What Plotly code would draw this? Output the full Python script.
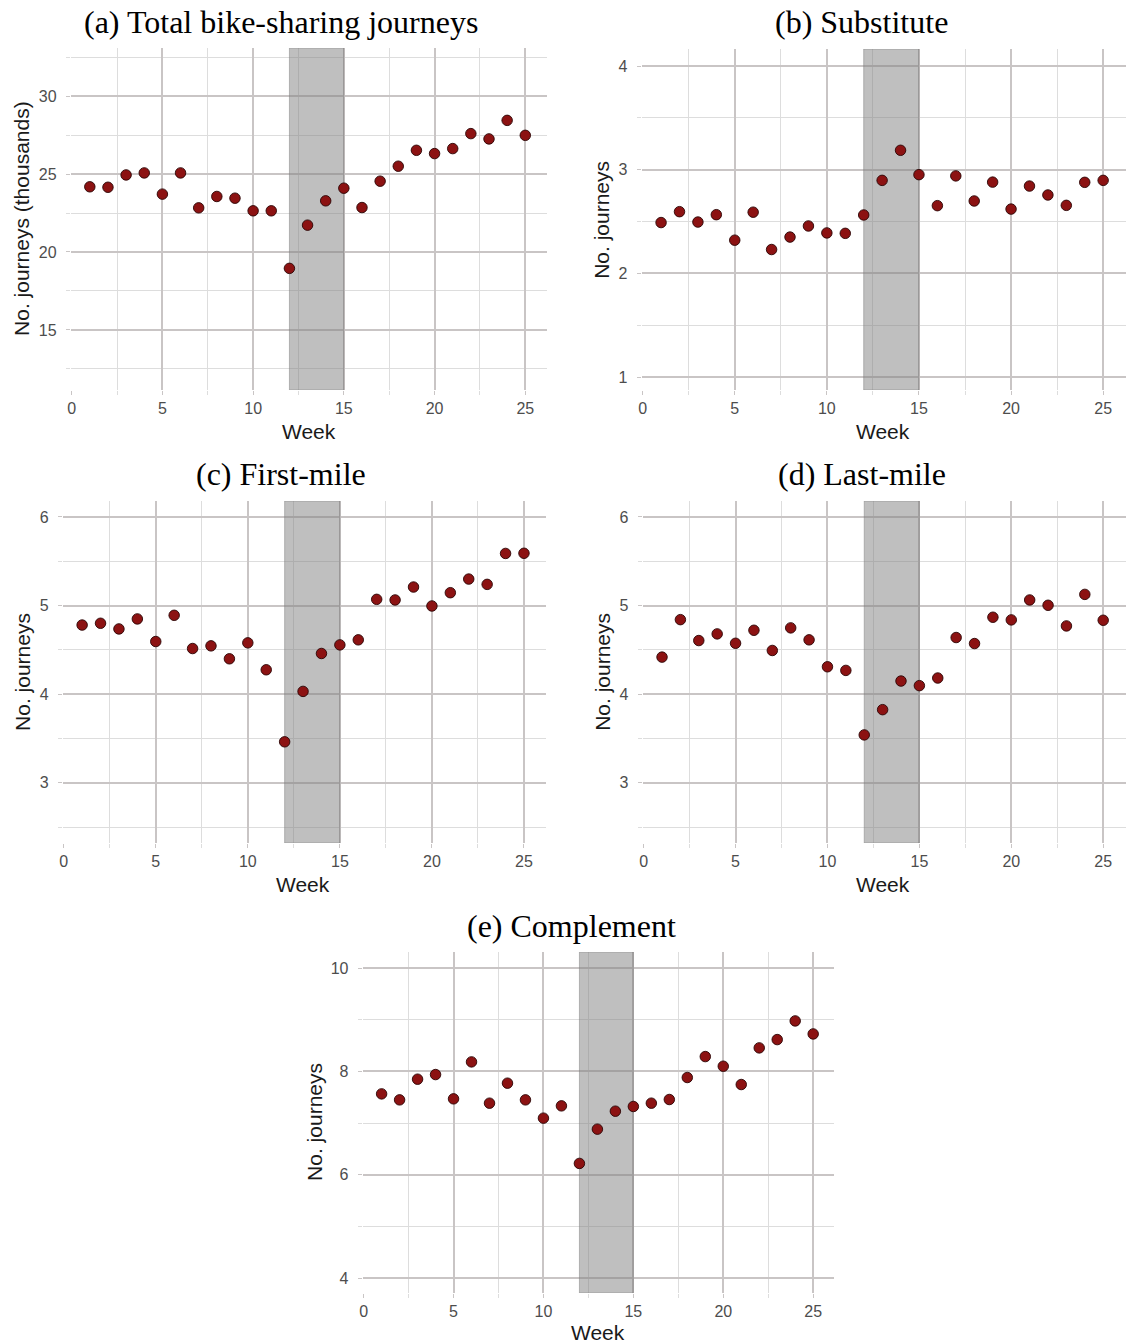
import plotly.graph_objects as go

weeks = list(range(1, 26))

total = [24.18, 24.15, 24.94, 25.07, 23.71, 25.07, 22.83, 23.56, 23.45, 22.64,
         22.64, 18.95, 21.72, 23.28, 24.09, 22.85, 24.54, 25.50, 26.52, 26.31,
         26.63, 27.59, 27.25, 28.44, 27.48]
substitute = [2.49, 2.595, 2.495, 2.566, 2.32, 2.59, 2.23, 2.35, 2.457, 2.39,
              2.386, 2.563, 2.897, 3.187, 2.952, 2.653, 2.94, 2.698, 2.88, 2.62,
              2.842, 2.756, 2.656, 2.878, 2.897]
first_mile = [4.78, 4.80, 4.736, 4.849, 4.594, 4.89, 4.515, 4.545, 4.399, 4.579,
              4.275, 3.462, 4.031, 4.459, 4.556, 4.613, 5.07, 5.063, 5.209, 4.995,
              5.145, 5.299, 5.239, 5.588, 5.59]
last_mile = [4.418, 4.841, 4.605, 4.68, 4.574, 4.721, 4.493, 4.748, 4.613, 4.309,
             4.268, 3.54, 3.825, 4.148, 4.096, 4.182, 4.639, 4.571, 4.868, 4.838,
             5.063, 5.003, 4.77, 5.126, 4.834]
complement = [7.564, 7.448, 7.848, 7.938, 7.468, 8.183, 7.384, 7.771, 7.448, 7.094,
              7.332, 6.218, 6.881, 7.229, 7.32, 7.384, 7.455, 7.881, 8.286, 8.099,
              7.745, 8.454, 8.615, 8.976, 8.724]

titles = ["(a) Total bike-sharing journeys", "(b) Substitute", "(c) First-mile",
          "(d) Last-mile", "(e) Complement"]
ytitles = ["No. journeys (thousands)", "No. journeys", "No. journeys",
           "No. journeys", "No. journeys"]
series = [total, substitute, first_mile, last_mile, complement]
shade_start, shade_end = 12, 15

W, H = 1126, 1344

panels = [
    dict(px=(67, 545, 48, 390), xr=(-0.05, 26.2), yr=(11.15, 33.08), dt=5, mn=2.5,
         title=(278, 22), week=(306, 432), ylab=(18, 218)),
    dict(px=(640, 1126, 49, 390), xr=(-0.05, 26.24), yr=(0.875, 4.164), dt=1, mn=0.5,
         title=(861, 22), week=(882, 432), ylab=(600, 220)),
    dict(px=(59, 544, 501, 843), xr=(-0.05, 26.2), yr=(2.32, 6.18), dt=1, mn=0.5,
         title=(278, 474), week=(300, 884), ylab=(18, 672)),
    dict(px=(641, 1126, 501, 843), xr=(-0.05, 26.24), yr=(2.32, 6.18), dt=1, mn=0.5,
         title=(861, 474), week=(882, 884), ylab=(600, 672)),
    dict(px=(360, 833, 952, 1293), xr=(-0.05, 26.16), yr=(3.71, 10.31), dt=2, mn=1,
         title=(570, 926), week=(596, 1332), ylab=(311, 1122)),
]

fig = go.Figure()
layout = dict(width=W, height=H, margin=dict(l=0, r=0, t=0, b=0),
              paper_bgcolor="white", plot_bgcolor="white", showlegend=False)
annotations = []

major_col = "#c9c5c5"
minor_col = "#dddddd"
tick_font = dict(family="Liberation Sans, Arial, sans-serif", size=16, color="#4d4d4d")
lab_font = dict(family="Liberation Sans, Arial, sans-serif", size=21, color="#1a1a1a")
title_font = dict(family="Liberation Serif, Times New Roman, serif", size=32, color="#000000")


def fx(v):
    return v / W


def fy(v):
    return 1 - v / H


for i, p in enumerate(panels):
    n = "" if i == 0 else str(i + 1)
    l, r, t, b = p["px"]
    xa = dict(domain=[max(fx(l), 0), min(fx(r), 1)], range=list(p["xr"]), anchor="y" + n,
              tick0=0, dtick=5, showgrid=True, gridcolor=major_col, gridwidth=1.5,
              zeroline=False, showline=False, ticks="outside", ticklen=4,
              tickcolor=major_col, tickfont=tick_font, ticklabelstandoff=0,
              minor=dict(dtick=2.5, tick0=0, showgrid=True, gridcolor=minor_col,
                         gridwidth=1.2, ticks="outside", ticklen=4, tickcolor=minor_col))
    ya = dict(domain=[fy(b), fy(t)], range=list(p["yr"]), anchor="x" + n,
              tick0=0, dtick=p["dt"], showgrid=True, gridcolor=major_col, gridwidth=1.5,
              zeroline=False, showline=False, ticks="outside", ticklen=4,
              tickcolor=major_col, tickfont=tick_font, ticklabelstandoff=6,
              minor=dict(dtick=p["mn"], tick0=0, showgrid=True, gridcolor=minor_col,
                         gridwidth=1.2, ticks="outside", ticklen=4, tickcolor=minor_col))
    layout["xaxis" + n] = xa
    layout["yaxis" + n] = ya

    y0, y1 = p["yr"]
    fig.add_trace(go.Scatter(x=[shade_start, shade_end, shade_end, shade_start, shade_start],
                             y=[y0, y0, y1, y1, y0], mode="lines", fill="toself",
                             fillcolor="rgba(128,128,128,0.5)",
                             line=dict(color="rgba(120,120,120,0.45)", width=1),
                             xaxis="x" + n, yaxis="y" + n, hoverinfo="skip"))

    fig.add_trace(go.Scatter(x=weeks, y=series[i], mode="markers",
                             xaxis="x" + n, yaxis="y" + n,
                             marker=dict(size=10.5, color="#8C1212",
                                         line=dict(color="#2a0505", width=0.9))))

    tx, ty = p["title"]
    annotations.append(dict(text=titles[i], x=fx(tx), y=fy(ty), xref="paper",
                            yref="paper", showarrow=False, font=title_font,
                            xanchor="center", yanchor="middle", borderpad=0))
    wx, wy = p["week"]
    annotations.append(dict(text="Week", x=fx(wx), y=fy(wy), xref="paper",
                            yref="paper", showarrow=False, font=lab_font,
                            xanchor="center", yanchor="middle"))
    lx, ly = p["ylab"]
    annotations.append(dict(text=ytitles[i], x=fx(lx), y=fy(ly), xref="paper",
                            yref="paper", showarrow=False, font=lab_font, textangle=-90,
                            xanchor="center", yanchor="middle"))

layout["annotations"] = annotations
fig.update_layout(**layout)
fig.write_html("out.html", config={"displayModeBar": False},
               post_script="document.body.style.margin='0';"
                           "document.body.style.overflow='hidden';")
